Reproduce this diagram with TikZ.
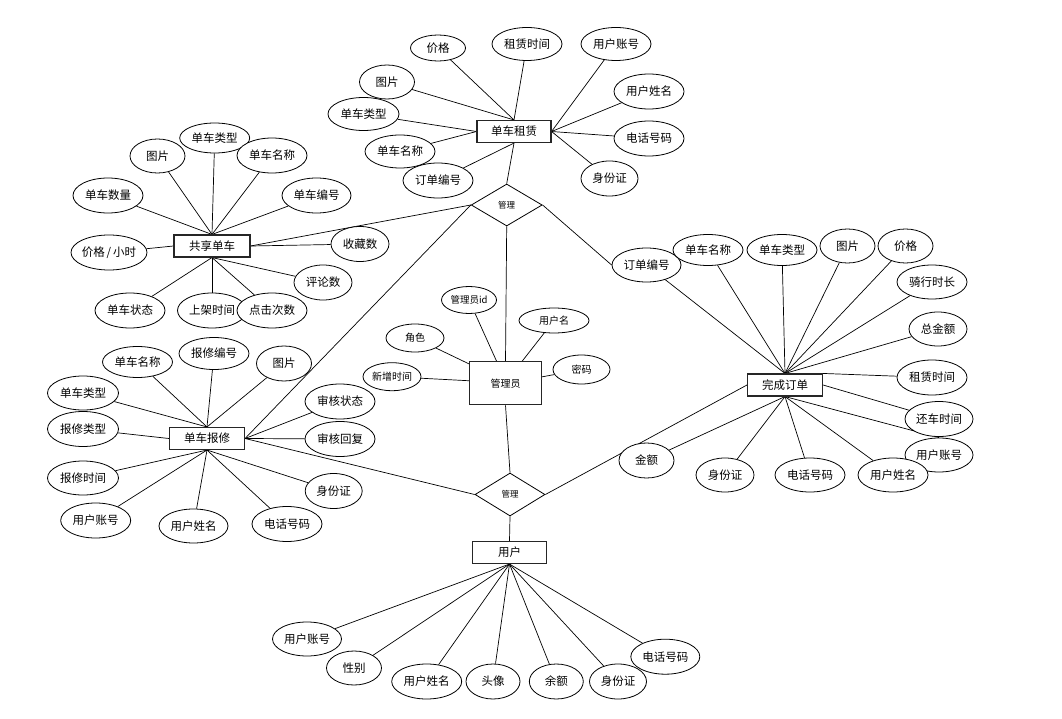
\documentclass[tikz,border=0pt]{standalone}
\usepackage{fontspec}
\newfontfamily\cjk{Noto Sans CJK SC}
\usetikzlibrary{shapes.geometric,backgrounds}
\begin{document}
\begin{tikzpicture}[x=1pt,y=-1pt,
  ent/.style={draw=black!85,line width=1.1pt,fill=white,inner sep=0pt,minimum width=74pt,minimum height=22pt,font=\cjk\fontsize{11.5}{12}\selectfont},
  attr/.style={draw,ellipse,line width=0.8pt,fill=white,inner sep=0pt,minimum width=70pt,minimum height=34pt,font=\cjk\fontsize{11.5}{12}\selectfont},
  atwo/.style={attr,minimum width=55pt},
  athree/.style={attr,minimum width=58pt},
  rel/.style={draw,diamond,line width=0.8pt,fill=white,inner sep=0pt,minimum width=71pt,minimum height=42pt,font=\cjk\fontsize{8.5}{9}\selectfont},
  sm/.style={font=\cjk\fontsize{10}{11}\selectfont},
  ln/.style={line width=0.7pt}]
\useasboundingbox (0,0) rectangle (1062,719);

% entities
\node[ent] (r1) at (514,131.5) {单车租赁};
\node[ent,minimum width=76pt] (r2) at (212,246) {共享单车};
\node[ent,minimum width=75pt] (r3) at (207,438.5) {单车报修};
\node[ent,minimum width=75pt] (r4) at (785,385) {完成订单};
\node[ent,minimum width=72pt,minimum height=43pt,sm] (r5) at (505.5,383.3) {管理员};
\node[ent] (r6) at (509.5,552.5) {用户};
\node[rel] (d1) at (506.7,205) {管理};
\node[rel,minimum width=70pt,minimum height=43pt] (d2) at (510,494.5) {管理};

% 单车租赁 attributes
\node[atwo,minimum height=26pt] (t1) at (438,48) {价格};
\node[attr,minimum height=33pt] (t2) at (527,44) {租赁时间};
\node[attr,minimum height=33pt] (t3) at (616,44) {用户账号};
\node[atwo] (t4) at (387,82) {图片};
\node[attr,minimum height=35pt] (t5) at (649,91.5) {用户姓名};
\node[attr,minimum width=71pt,minimum height=33pt] (t6) at (363.5,114) {单车类型};
\node[attr,minimum height=35pt] (t7) at (649,138.5) {电话号码};
\node[attr,minimum height=33pt] (t8) at (400,151.5) {单车名称};
\node[attr,minimum height=35pt] (t9) at (438,180.5) {订单编号};
\node[athree,minimum width=57pt,minimum height=35pt] (t10) at (609.5,178.5) {身份证};

% 共享单车 attributes
\node[attr,minimum height=30pt] (s1) at (214.7,138) {单车类型};
\node[atwo] (s2) at (157.5,156) {图片};
\node[attr,minimum height=35pt] (s3) at (272,155.5) {单车名称};
\node[attr,minimum height=35pt] (s4) at (108,195.5) {单车数量};
\node[attr,minimum width=69pt,minimum height=35pt] (s5) at (316.5,195.5) {单车编号};
\node[attr,minimum width=76pt,minimum height=35pt,inner xsep=-3pt] (s6) at (109,252.5) {价格\,/\,小时};
\node[athree,minimum height=35pt] (s7) at (360,244) {收藏数};
\node[athree,minimum height=35pt] (s8) at (323,282.5) {评论数};
\node[attr,minimum height=35pt] (s9) at (130,310.5) {单车状态};
\node[attr,minimum width=69pt,minimum height=35pt] (s10) at (212,310.5) {上架时间};
\node[attr,minimum height=35pt] (s11) at (272,310.5) {点击次数};

% 单车报修 attributes
\node[attr,minimum height=31pt] (b1) at (137.5,362) {单车名称};
\node[attr,minimum height=32pt] (b2) at (214,353.5) {报修编号};
\node[atwo,minimum height=35pt] (b3) at (284,363.5) {图片};
\node[attr,minimum width=71pt] (b4) at (83,393) {单车类型};
\node[attr,minimum width=71pt,minimum height=35pt] (b5) at (83,429) {报修类型};
\node[attr,minimum height=35pt] (b6) at (340,401.5) {审核状态};
\node[attr,minimum height=35pt] (b7) at (340,439) {审核回复};
\node[attr,minimum width=71pt] (b8) at (83,478) {报修时间};
\node[athree,minimum width=57pt,minimum height=35pt] (b9) at (333.7,491) {身份证};
\node[attr,minimum height=35pt] (b10) at (95.7,520.5) {用户账号};
\node[attr,minimum width=69pt] (b11) at (193.5,526) {用户姓名};
\node[attr,minimum height=35pt] (b12) at (287,524) {电话号码};

% 完成订单 attributes
\node[attr,minimum width=69pt] (o1) at (646.5,265) {订单编号};
\node[attr,minimum height=31pt] (o2) at (708,250) {单车名称};
\node[attr,minimum height=31pt] (o3) at (782,250) {单车类型};
\node[atwo] (o4) at (847.5,246) {图片};
\node[atwo] (o5) at (905.5,246) {价格};
\node[attr] (o6) at (932,282) {骑行时长};
\node[athree] (o7) at (938,329) {总金额};
\node[attr,minimum height=35pt] (o8) at (932,377.5) {租赁时间};
\node[attr,minimum width=68pt,minimum height=35pt] (o9) at (939,419) {还车时间};
\node[attr,minimum width=68pt] (o10) at (939,455) {用户账号};
\node[attr] (o11) at (893,475) {用户姓名};
\node[attr] (o12) at (810,475) {电话号码};
\node[athree] (o13) at (725,475) {身份证};
\node[atwo,minimum height=35pt] (o14) at (646.5,460.5) {金额};

% 管理员 attributes
\node[attr,minimum width=55pt,minimum height=27pt,font=\cjk\fontsize{9.5}{10}\selectfont] (m1) at (469,300) {管理员id};
\node[attr,sm,minimum height=25pt] (m2) at (554,320.5) {用户名};
\node[attr,sm,minimum width=58pt,minimum height=28pt] (m3) at (415,338) {角色};
\node[attr,sm,minimum width=57pt,minimum height=29pt] (m4) at (581.5,369.5) {密码};
\node[attr,sm,minimum width=58pt,minimum height=28pt] (m5) at (392,376.7) {新增时间};

% 用户 attributes
\node[attr,minimum width=69pt] (u1) at (307,639) {用户账号};
\node[atwo] (u2) at (354,668) {性别};
\node[attr,minimum height=35pt] (u3) at (426.7,681.5) {用户姓名};
\node[atwo,minimum width=54pt,minimum height=35pt] (u4) at (493,681.5) {头像};
\node[atwo,minimum width=54pt,minimum height=35pt] (u5) at (556.3,681.5) {余额};
\node[attr,minimum width=69pt,minimum height=35pt] (u7) at (665.3,656.7) {电话号码};
\node[athree,minimum width=57pt,minimum height=35pt] (u6) at (618,681.5) {身份证};

\begin{pgfonlayer}{background}
\fill[white] (0,0) rectangle (1062,719);
\begin{scope}[ln]
% relationships
\draw (r1.south) -- (d1.north);
\draw (d1.west) -- (r2.east);
\draw (d1.west) -- (r3.east);
\draw (d1.south) -- (r5.north);
\draw (d1.east) -- (o1.west);
\draw (r5.south) -- (d2.north);
\draw (d2.west) -- (r3.east);
\draw (d2.east) -- (r4.west);
\draw (d2.south) -- (r6.north);
% 单车租赁
\foreach \a in {t1,t2,t4} \draw (r1.north) -- (\a);
\foreach \a in {t6,t8} \draw (r1.west) -- (\a);
\draw (r1.south) -- (t9);
\foreach \a in {t3,t5,t7,t10} \draw (r1.east) -- (\a);
% 共享单车
\foreach \a in {s1,s2,s3,s4,s5} \draw (r2.north) -- (\a);
\draw (r2.west) -- (s6);
\draw (r2.east) -- (s7);
\foreach \a in {s8,s9,s10,s11} \draw (r2.south) -- (\a);
% 单车报修
\foreach \a in {b1,b2,b3,b4} \draw (r3.north) -- (\a);
\draw (r3.west) -- (b5);
\foreach \a in {b6,b7} \draw (r3.east) -- (\a);
\foreach \a in {b8,b9,b10,b11,b12} \draw (r3.south) -- (\a);
% 完成订单
\foreach \a in {o1,o2,o3,o4,o5,o6,o7} \draw (r4.north) -- (\a);
\draw (r4.north east) -- (o8);
\draw (r4.east) -- (o9);
\draw (r4.south) -- (o10.north);
\foreach \a in {o11,o12,o13,o14} \draw (r4.south) -- (\a);
% 管理员
\draw (r5.112) -- (m1);
\draw (r5.53) -- (m2);
\draw (r5.152) -- (m3);
\draw (r5.10) -- (m4);
\draw (r5.176) -- (m5);
% 用户
\foreach \a in {u1,u2,u3,u4,u5,u6,u7} \draw (r6.south) -- (\a);
\end{scope}
\end{pgfonlayer}
\end{tikzpicture}
\end{document}
